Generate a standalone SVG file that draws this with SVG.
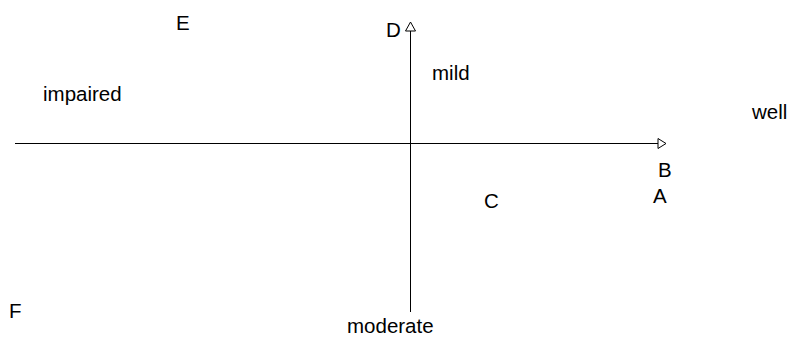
<svg xmlns="http://www.w3.org/2000/svg" width="788" height="338" viewBox="0 0 788 338">
<style>
text{font-family:"Liberation Sans",Arial,sans-serif;font-size:20.5px;fill:#000}
.ax{stroke:#000;stroke-width:1;fill:none}
.ah{stroke:#000;stroke-width:1;fill:#fff}
</style>
<rect width="788" height="338" fill="#fff"/>
<g id="connectors">
<line class="ax" x1="15" y1="143.5" x2="658" y2="143.5"/>
<path class="ah" d="M658,138.5 L666,143.5 L658,148.5 Z"/>
<line class="ax" x1="410.5" y1="312" x2="410.5" y2="31"/>
<path class="ah" d="M405.5,31 L410.5,22 L415.5,31 Z"/>
</g>
<g id="node-D"><text x="386" y="37">D</text></g>
<g id="node-E"><text x="176" y="30">E</text></g>
<g id="node-impaired"><text x="43" y="101">impaired</text></g>
<g id="node-mild"><text x="432" y="80">mild</text></g>
<g id="node-well"><text x="752" y="119">well</text></g>
<g id="node-B"><text x="658" y="177">B</text></g>
<g id="node-A"><text x="653" y="203">A</text></g>
<g id="node-C"><text x="484" y="208">C</text></g>
<g id="node-F"><text x="9" y="318">F</text></g>
<g id="node-moderate"><text x="347" y="333">moderate</text></g>
</svg>
